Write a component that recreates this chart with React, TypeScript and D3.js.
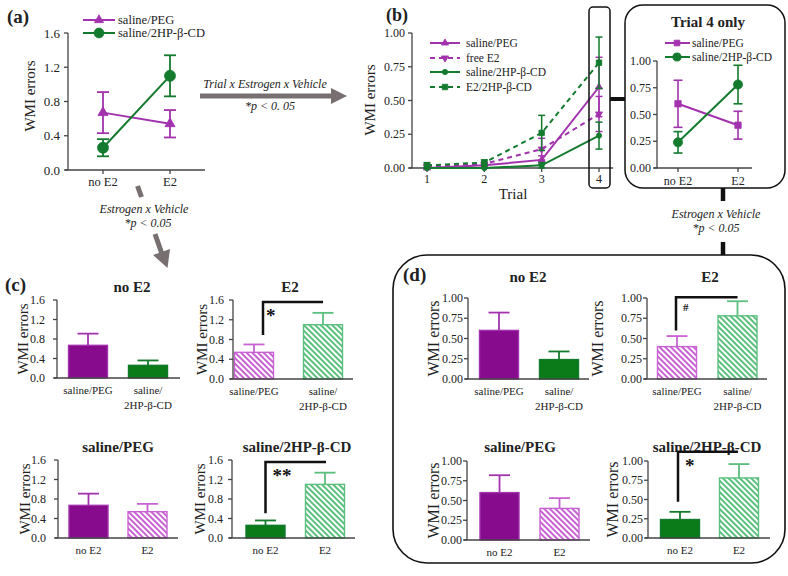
import React from "react";
import * as d3 from "d3";

// ---------------- data ----------------
const conditions = ["no E2", "E2"];
const vehicles = ["saline/PEG", "saline/2HP-β-CD"];
const vehicleCatLabels = [["saline/PEG"], ["saline/", "2HP-β-CD"]];
const conditionCatLabels = [["no E2"], ["E2"]];

// overall WMI errors (panels a, c)
const pegMeanAll = [0.67, 0.54];
const pegSemAll = [0.24, 0.16];
const hpMeanAll = [0.26, 1.1];
const hpSemAll = [0.1, 0.24];
const ticksAll = [0, 0.4, 0.8, 1.2, 1.6];

// per-trial WMI errors (panel b)
const trials = [1, 2, 3, 4];
const trialNames = ["saline/PEG", "free E2", "saline/2HP-β-CD", "E2/2HP-β-CD"];
const salinePegTrial = [0.0, 0.02, 0.06, 0.6];
const salinePegTrialSem = [0.005, 0.01, 0.03, 0.22];
const freeE2Trial = [0.01, 0.03, 0.14, 0.4];
const freeE2TrialSem = [0.01, 0.01, 0.08, 0.13];
const saline2hpTrial = [0.0, 0.0, 0.02, 0.24];
const saline2hpTrialSem = [0.0, 0.0, 0.02, 0.1];
const e22hpTrial = [0.02, 0.04, 0.26, 0.78];
const e22hpTrialSem = [0.02, 0.02, 0.13, 0.19];

// trial 4 only (inset, panel d)
const pegMeanT4 = [0.6, 0.4];
const pegSemT4 = [0.22, 0.13];
const hpMeanT4 = [0.24, 0.78];
const hpSemT4 = [0.1, 0.18];
const ticksT4 = [0, 0.25, 0.5, 0.75, 1.0];

// ---------------- styles ----------------
const FONT = "Liberation Serif, DejaVu Serif, Times New Roman, serif";
const PURPLE = "#870b8d";
const PURPLE_LINE = "#a232ad";
const GREEN = "#0b7a18";
const GREEN_LINE = "#137a2e";
const PURPLE_HATCH = "#c862d2";
const GREEN_HATCH = "#5bbf7e";
const INK = "#222";
const AXIS = "#444";
const ARROW = "#787070";

function sym(type: string, size: number) {
  const t = type === "circle" ? d3.symbolCircle : type === "square" ? d3.symbolSquare : d3.symbolTriangle;
  return d3.symbol().type(t).size(size)() as string;
}

function Marker({ type, x, y, size, color }: any) {
  const rot = type === "triDown" ? " rotate(180)" : "";
  return <path d={sym(type, size)} transform={`translate(${x},${y})${rot}`} fill={color} stroke={color} strokeWidth={0.8} />;
}

function YAxis({ x, y, ticks, fmt, gap, fs }: any) {
  const lo = ticks[0];
  const hi = ticks[ticks.length - 1];
  return (
    <g>
      <line x1={x} x2={x} y1={y(lo)} y2={y(hi)} stroke={AXIS} strokeWidth={1.3} />
      {ticks.map((t: number) => (
        <g key={t}>
          <line x1={x - 4} x2={x} y1={y(t)} y2={y(t)} stroke={AXIS} strokeWidth={1.3} />
          <text x={x - 4 - gap} y={y(t)} dy="0.35em" textAnchor="end" fontSize={fs} fill={INK}>
            {fmt(t)}
          </text>
        </g>
      ))}
    </g>
  );
}

function YLabel({ x, y, fs }: any) {
  return (
    <text transform={`translate(${x},${y}) rotate(-90)`} textAnchor="middle" dominantBaseline="central" fontSize={fs} fill={INK}>
      WMI errors
    </text>
  );
}

function ErrBar({ x, y1, y2, cap, color, sw }: any) {
  return (
    <g stroke={color} strokeWidth={sw}>
      <line x1={x} x2={x} y1={y1} y2={y2} />
      <line x1={x - cap / 2} x2={x + cap / 2} y1={y1} y2={y1} />
      <line x1={x - cap / 2} x2={x + cap / 2} y1={y2} y2={y2} />
    </g>
  );
}

// ---------------- Panel (a) ----------------
function PanelA() {
  const x = d3.scalePoint<string>().domain(conditions).range([103, 170]);
  const y = d3.scaleLinear().domain([0, 1.6]).range([170, 33]);
  const series = [
    { name: vehicles[0], m: pegMeanAll, s: pegSemAll, color: PURPLE_LINE, mk: "triUp", size: 45 },
    { name: vehicles[1], m: hpMeanAll, s: hpSemAll, color: GREEN_LINE, mk: "circle", size: 95 },
  ];
  const line = d3.line<number>().x((_, i) => x(conditions[i])!).y((d) => y(d));
  return (
    <g>
      <text x={7} y={23} fontSize={19} fontWeight="bold" fill={INK}>(a)</text>
      <YAxis x={68} y={y} ticks={ticksAll} fmt={d3.format(".1f")} gap={4} fs={13} />
      <line x1={65} x2={205} y1={170} y2={170} stroke={AXIS} strokeWidth={1.3} />
      {conditions.map((c) => (
        <g key={c}>
          <line x1={x(c)} x2={x(c)} y1={170} y2={174} stroke={AXIS} strokeWidth={1.3} />
          <text x={x(c)} y={186} textAnchor="middle" fontSize={12.5} fill={INK}>{c}</text>
        </g>
      ))}
      <YLabel x={30} y={96} fs={15} />
      {series.map((s) => (
        <g key={s.name}>
          {s.m.map((v, i) => (
            <ErrBar key={i} x={x(conditions[i])} y1={y(v + s.s[i])} y2={y(v - s.s[i])} cap={12} color={s.color} sw={1.8} />
          ))}
          <path d={line(s.m)!} fill="none" stroke={s.color} strokeWidth={2} />
          {s.m.map((v, i) => (
            <Marker key={i} type={s.mk} x={x(conditions[i])} y={y(v)} size={s.size} color={s.color} />
          ))}
        </g>
      ))}
      {series.map((s, i) => (
        <g key={"lg" + i}>
          <line x1={83} x2={115} y1={20 + i * 13} y2={20 + i * 13} stroke={s.color} strokeWidth={2} />
          <Marker type={s.mk} x={99} y={20 + i * 13} size={s.size * 0.8} color={s.color} />
          <text x={118} y={20 + i * 13} dy="0.35em" fontSize={12.5} fill={INK}>{s.name}</text>
        </g>
      ))}
    </g>
  );
}

// ---------------- Panel (b) ----------------
function PanelB() {
  const x = d3.scaleLinear().domain([1, 4]).range([427, 599]);
  const y = d3.scaleLinear().domain([0, 1]).range([168, 33]);
  const series = [
    { name: trialNames[0], m: salinePegTrial, s: salinePegTrialSem, color: PURPLE_LINE, mk: "triUp", size: 22, dash: undefined },
    { name: trialNames[1], m: freeE2Trial, s: freeE2TrialSem, color: PURPLE_LINE, mk: "triDown", size: 22, dash: "5,4" },
    { name: trialNames[2], m: saline2hpTrial, s: saline2hpTrialSem, color: GREEN_LINE, mk: "circle", size: 22, dash: undefined },
    { name: trialNames[3], m: e22hpTrial, s: e22hpTrialSem, color: GREEN_LINE, mk: "square", size: 30, dash: "5,4" },
  ];
  const line = d3.line<number>().x((_, i) => x(trials[i])).y((d) => y(d));
  const legY = [43, 58, 72, 87];
  return (
    <g>
      <text x={386} y={21} fontSize={18} fontWeight="bold" fill={INK}>(b)</text>
      <YAxis x={412} y={y} ticks={ticksT4} fmt={d3.format(".2f")} gap={3} fs={12} />
      <line x1={409} x2={613} y1={168} y2={168} stroke={AXIS} strokeWidth={1.3} />
      {trials.map((t) => (
        <g key={t}>
          <line x1={x(t)} x2={x(t)} y1={168} y2={172} stroke={AXIS} strokeWidth={1.3} />
          <text x={x(t)} y={183} textAnchor="middle" fontSize={12} fill={INK}>{t}</text>
        </g>
      ))}
      <text x={513} y={199} textAnchor="middle" fontSize={15} fill={INK}>Trial</text>
      <YLabel x={370} y={100} fs={15} />
      {series.map((s) => (
        <g key={s.name}>
          {s.m.map((v, i) => (
            <ErrBar key={i} x={x(trials[i])} y1={y(v + s.s[i])} y2={y(Math.max(0, v - s.s[i]))} cap={7} color={s.color} sw={1.5} />
          ))}
          <path d={line(s.m)!} fill="none" stroke={s.color} strokeWidth={2} strokeDasharray={s.dash} />
          {s.m.map((v, i) => (
            <Marker key={i} type={s.mk} x={x(trials[i])} y={y(v)} size={s.size} color={s.color} />
          ))}
        </g>
      ))}
      {series.map((s, i) => (
        <g key={"lg" + i}>
          <line x1={430} x2={460} y1={legY[i]} y2={legY[i]} stroke={s.color} strokeWidth={2} strokeDasharray={s.dash} />
          <Marker type={s.mk} x={445} y={legY[i]} size={s.size} color={s.color} />
          <text x={466} y={legY[i]} dy="0.35em" fontSize={11.5} fill={INK}>{s.name}</text>
        </g>
      ))}
      <rect x={589} y={7} width={21} height={181} rx={4} fill="none" stroke="#111" strokeWidth={1.5} />
      <line x1={610} x2={625} y1={99} y2={99} stroke="#111" strokeWidth={4} />
    </g>
  );
}

// ---------------- Inset: Trial 4 only ----------------
function Inset() {
  const x = d3.scalePoint<string>().domain(conditions).range([678, 738]);
  const y = d3.scaleLinear().domain([0, 1]).range([168, 61]);
  const series = [
    { name: vehicles[0], m: pegMeanT4, s: pegSemT4, color: PURPLE_LINE, mk: "square", size: 40 },
    { name: vehicles[1], m: hpMeanT4, s: hpSemT4, color: GREEN_LINE, mk: "circle", size: 65 },
  ];
  const line = d3.line<number>().x((_, i) => x(conditions[i])!).y((d) => y(d));
  return (
    <g>
      <rect x={625} y={5} width={160} height={183} rx={18} fill="none" stroke="#111" strokeWidth={1.5} />
      <text x={708} y={27} textAnchor="middle" fontSize={15} fontWeight="bold" fill={INK}>Trial 4 only</text>
      <YAxis x={657} y={y} ticks={ticksT4} fmt={d3.format(".2f")} gap={2} fs={12} />
      <line x1={654} x2={752} y1={168} y2={168} stroke={AXIS} strokeWidth={1.3} />
      {conditions.map((c) => (
        <g key={c}>
          <line x1={x(c)} x2={x(c)} y1={168} y2={172} stroke={AXIS} strokeWidth={1.3} />
          <text x={x(c)} y={185} textAnchor="middle" fontSize={12} fill={INK}>{c}</text>
        </g>
      ))}
      {series.map((s) => (
        <g key={s.name}>
          {s.m.map((v, i) => (
            <ErrBar key={i} x={x(conditions[i])} y1={y(v + s.s[i])} y2={y(v - s.s[i])} cap={9} color={s.color} sw={1.6} />
          ))}
          <path d={line(s.m)!} fill="none" stroke={s.color} strokeWidth={2} />
          {s.m.map((v, i) => (
            <Marker key={i} type={s.mk} x={x(conditions[i])} y={y(v)} size={s.size} color={s.color} />
          ))}
        </g>
      ))}
      {series.map((s, i) => (
        <g key={"lg" + i}>
          <line x1={665} x2={690} y1={43 + i * 14} y2={43 + i * 14} stroke={s.color} strokeWidth={2} />
          <Marker type={s.mk} x={677} y={43 + i * 14} size={s.size * 0.8} color={s.color} />
          <text x={692} y={43 + i * 14} dy="0.35em" fontSize={11.5} fill={INK}>{s.name}</text>
        </g>
      ))}
    </g>
  );
}

// ---------------- Bar panel ----------------
function BarPanel(p: any) {
  const y = d3.scaleLinear().domain([0, p.max]).range([p.yBot, p.yTop]);
  const x = d3.scalePoint<number>().domain([0, 1]).range(p.centers);
  const bw = 39;
  const fmt = d3.format(p.max > 1 ? ".1f" : ".2f");
  return (
    <g>
      <text x={p.titleX} y={p.titleY} textAnchor="middle" fontSize={15} fontWeight="bold" fill={INK}>{p.title}</text>
      <YLabel x={p.ylabX} y={(p.yBot + p.yTop) / 2} fs={p.ylabFs || 15} />
      {p.means.map((m: number, i: number) => {
        const cx = x(i)!;
        const st = p.styles[i];
        const fill = st.hatch ? `url(#${st.hatch})` : st.color;
        return (
          <g key={i}>
            <line x1={cx} x2={cx} y1={y(m)} y2={y(m + p.sems[i])} stroke={st.line} strokeWidth={1.8} />
            <line x1={cx - 10.5} x2={cx + 10.5} y1={y(m + p.sems[i])} y2={y(m + p.sems[i])} stroke={st.line} strokeWidth={1.8} />
            <rect x={cx - bw / 2} y={y(m)} width={bw} height={p.yBot - y(m)} fill={fill} stroke={st.line} strokeWidth={1.4} />
            {p.cats[i].map((t: string, k: number) => (
              <text key={k} x={cx} y={p.yBot + 15.5 + k * 15} textAnchor="middle" fontSize={11} fill={INK}>{t}</text>
            ))}
          </g>
        );
      })}
      <YAxis x={p.axisX} y={y} ticks={p.ticks} fmt={fmt} gap={p.gap} fs={12} />
      <line x1={p.axisX - 3} x2={p.axisEnd} y1={p.yBot} y2={p.yBot} stroke={AXIS} strokeWidth={1.3} />
      {p.bracket && (
        <g>
          <path
            d={`M${x(0)! + p.bracket.dx},${y(p.bracket.from)} V${y(p.bracket.top)} H${x(1)! + p.bracket.dx1}`}
            fill="none"
            stroke="#111"
            strokeWidth={2.5}
          />
          <text x={x(0)! + p.bracket.tx} y={y(p.bracket.top) + p.bracket.ty} fontSize={p.bracket.fs} fontWeight="bold" fill="#111">
            {p.bracket.label}
          </text>
        </g>
      )}
    </g>
  );
}

const solidP = { color: PURPLE, line: PURPLE_LINE };
const solidG = { color: GREEN, line: GREEN_LINE };
const hatchP = { hatch: "hatchP", line: PURPLE_HATCH };
const hatchG = { hatch: "hatchG", line: GREEN_HATCH };

export default function App() {
  return (
    <svg
      width={788}
      height={576}
      viewBox="0 0 788 576"
      style={{ position: "absolute", left: 0, top: 0, background: "#fff", fontFamily: FONT }}
    >
      <defs>
        <pattern id="hatchP" patternUnits="userSpaceOnUse" width={4} height={4} patternTransform="rotate(-45)">
          <rect width={4} height={4} fill="#fff" />
          <line x1={1} y1={0} x2={1} y2={4} stroke={PURPLE_HATCH} strokeWidth={2} />
        </pattern>
        <pattern id="hatchG" patternUnits="userSpaceOnUse" width={4} height={4} patternTransform="rotate(-45)">
          <rect width={4} height={4} fill="#fff" />
          <line x1={1} y1={0} x2={1} y2={4} stroke={GREEN_HATCH} strokeWidth={2} />
        </pattern>
      </defs>
      <rect width={788} height={576} fill="#fff" />

      <PanelA />
      <PanelB />
      <Inset />

      {/* arrow a -> b */}
      <g fill={ARROW} stroke="none">
        <line x1={200} x2={333} y1={96} y2={96} stroke={ARROW} strokeWidth={5} />
        <polygon points="331,88 347,96 331,104" />
      </g>
      <text x={265} y={88} textAnchor="middle" fontSize={12} fontStyle="italic" fill={INK}>Trial x Estrogen x Vehicle</text>
      <text x={270} y={110} textAnchor="middle" fontSize={12} fontStyle="italic" fill={INK}>*p &lt; 0. 05</text>

      {/* arrow a -> c */}
      <line x1={137.5} y1={186} x2={141.5} y2={197} stroke={ARROW} strokeWidth={5} />
      <line x1={155} y1={234} x2={162} y2={254} stroke={ARROW} strokeWidth={5} />
      <polygon points="153,255 170,249 167.5,268" fill={ARROW} />
      <text x={144} y={213} textAnchor="middle" fontSize={12} fontStyle="italic" fill={INK}>Estrogen x Vehicle</text>
      <text x={148} y={227} textAnchor="middle" fontSize={12} fontStyle="italic" fill={INK}>*p &lt; 0.05</text>

      {/* connector inset -> d */}
      <line x1={723} x2={723} y1={188} y2={201} stroke="#111" strokeWidth={4.5} />
      <line x1={723} x2={723} y1={242} y2={255} stroke="#111" strokeWidth={4.5} />
      <text x={716} y={218} textAnchor="middle" fontSize={12} fontStyle="italic" fill={INK}>Estrogen x Vehicle</text>
      <text x={716} y={232} textAnchor="middle" fontSize={12} fontStyle="italic" fill={INK}>*p &lt; 0.05</text>

      {/* panel (c) */}
      <text x={5} y={291} fontSize={19} fontWeight="bold" fill={INK}>(c)</text>
      <BarPanel
        axisX={57} axisEnd={180} yBot={378} yTop={300} max={1.6} ticks={ticksAll} gap={8}
        centers={[88, 148]} cats={vehicleCatLabels}
        means={[pegMeanAll[0], hpMeanAll[0]]} sems={[pegSemAll[0], hpSemAll[0]]}
        styles={[solidP, solidG]} title={conditions[0]} titleX={132} titleY={292} ylabX={23}
      />
      <BarPanel
        axisX={233} axisEnd={353} yBot={379} yTop={300} max={1.6} ticks={ticksAll} gap={5}
        centers={[254, 323]} cats={vehicleCatLabels}
        means={[pegMeanAll[1], hpMeanAll[1]]} sems={[pegSemAll[1], hpSemAll[1]]}
        styles={[hatchP, hatchG]} title={conditions[1]} titleX={290} titleY={292} ylabX={202}
        bracket={{ from: 0.89, top: 1.56, dx: 9, dx1: 0, label: "*", tx: 12, ty: 20, fs: 19 }}
      />
      <BarPanel
        axisX={58} axisEnd={178} yBot={538} yTop={460} max={1.6} ticks={ticksAll} gap={8}
        centers={[88.5, 147.5]} cats={conditionCatLabels}
        means={pegMeanAll} sems={pegSemAll}
        styles={[solidP, hatchP]} title={vehicles[0]} titleX={118} titleY={452} ylabX={25}
      />
      <BarPanel
        axisX={232} axisEnd={355} yBot={538} yTop={460} max={1.6} ticks={ticksAll} gap={5}
        centers={[265.5, 325]} cats={conditionCatLabels}
        means={hpMeanAll} sems={hpSemAll}
        styles={[solidG, hatchG]} title={vehicles[1]} titleX={297} titleY={452} ylabX={200}
        bracket={{ from: 0.51, top: 1.56, dx: 0, dx1: 1, label: "**", tx: 7, ty: 20, fs: 19 }}
      />

      {/* panel (d) */}
      <rect x={393} y={255} width={392} height={308} rx={34} fill="none" stroke="#111" strokeWidth={1.6} />
      <text x={403} y={281} fontSize={19} fontWeight="bold" fill={INK}>(d)</text>
      <BarPanel
        axisX={468} axisEnd={589} yBot={379} yTop={298} max={1} ticks={ticksT4} gap={1}
        centers={[499, 559]} cats={vehicleCatLabels}
        means={[pegMeanT4[0], hpMeanT4[0]]} sems={[pegSemT4[0], hpSemT4[0]]}
        styles={[solidP, solidG]} title={conditions[0]} titleX={528} titleY={282} ylabX={433} ylabFs={16}
      />
      <BarPanel
        axisX={647} axisEnd={767} yBot={379} yTop={298} max={1} ticks={ticksT4} gap={1}
        centers={[677, 737.5]} cats={vehicleCatLabels}
        means={[pegMeanT4[1], hpMeanT4[1]]} sems={[pegSemT4[1], hpSemT4[1]]}
        styles={[hatchP, hatchG]} title={conditions[1]} titleX={710} titleY={282} ylabX={597} ylabFs={16}
        bracket={{ from: 0.6, top: 1.01, dx: -1, dx1: 0, label: "#", tx: 6, ty: 14, fs: 11 }}
      />
      <BarPanel
        axisX={467} axisEnd={590} yBot={540} yTop={461} max={1} ticks={ticksT4} gap={1}
        centers={[499.5, 559.5]} cats={conditionCatLabels}
        means={pegMeanT4} sems={pegSemT4}
        styles={[solidP, hatchP]} title={vehicles[0]} titleX={520} titleY={452} ylabX={433} ylabFs={16}
      />
      <BarPanel
        axisX={648} axisEnd={770} yBot={538} yTop={461} max={1} ticks={ticksT4} gap={1}
        centers={[680, 739]} cats={conditionCatLabels}
        means={hpMeanT4} sems={hpSemT4}
        styles={[solidG, hatchG]} title={vehicles[1]} titleX={707} titleY={452} ylabX={612} ylabFs={16}
        bracket={{ from: 0.47, top: 1.12, dx: -2, dx1: -1, label: "*", tx: 5, ty: 20, fs: 19 }}
      />
    </svg>
  );
}
